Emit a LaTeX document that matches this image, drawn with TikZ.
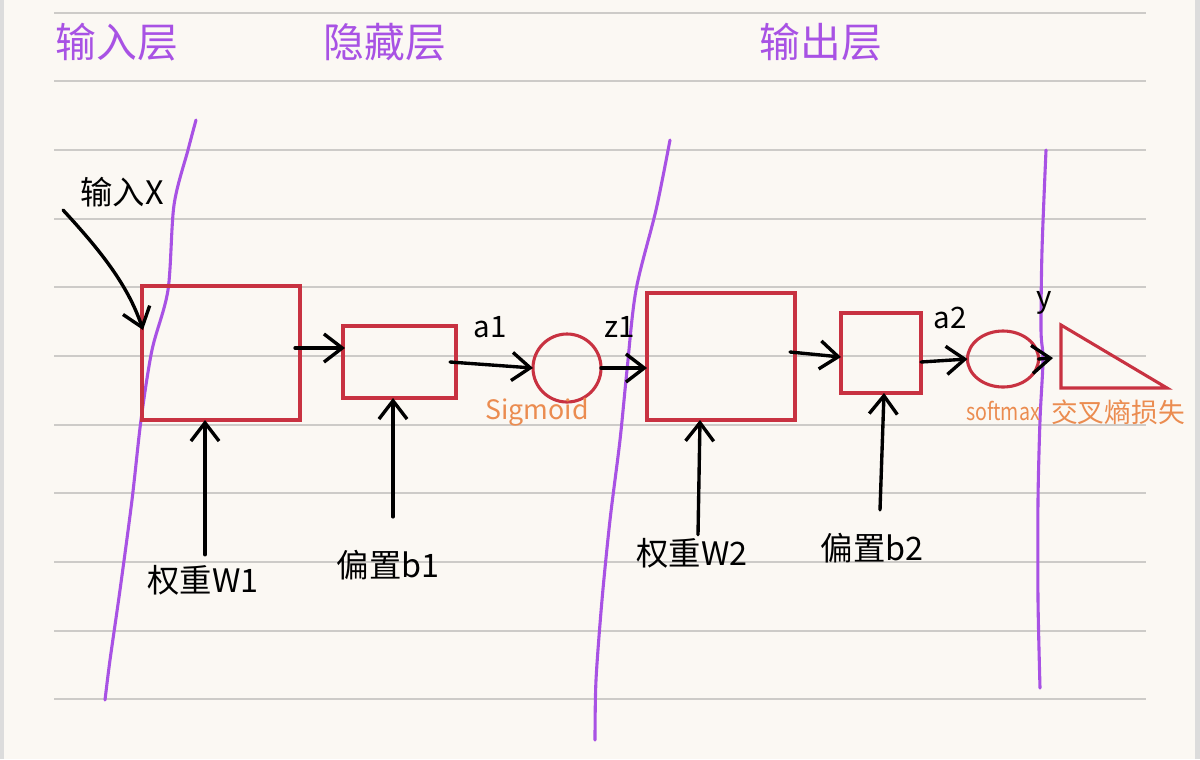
\documentclass[tikz,border=0pt]{standalone}
\usepackage{fontspec}
\setmainfont{Noto Sans CJK SC}
\usetikzlibrary{arrows.meta,shapes.geometric}
\definecolor{paper}{RGB}{251,248,243}
\definecolor{edge}{RGB}{220,220,220}
\definecolor{rule}{RGB}{205,203,200}
\definecolor{lilac}{RGB}{168,82,228}
\definecolor{boxred}{RGB}{200,50,65}
\definecolor{tang}{RGB}{235,140,80}
\tikzset{
  blk/.style={draw=boxred,line width=2.2pt,inner sep=0pt,outer sep=0pt},
  arr/.style={draw=black,line width=2.4pt,line cap=round,-{Straight Barb[length=13pt,width=20pt]}},
  layer/.style={draw=lilac,line width=2.2pt,line cap=round},
  head/.style={text=lilac,font=\fontsize{29}{31}\selectfont,inner sep=0pt},
  lbl/.style={text=black,font=\fontsize{23}{25}\selectfont,inner sep=0pt},
  sym/.style={text=black,font=\fontsize{21}{23}\selectfont,inner sep=0pt},
  act/.style={text=tang,inner sep=0pt}
}
\begin{document}
\begin{tikzpicture}[x=0.025cm,y=-0.025cm]
\useasboundingbox (0,0) rectangle (1200,759);
\fill[paper] (0,0) rectangle (1200,759);
\fill[edge] (0,0) rectangle (4,759);
\fill[edge] (1195,0) rectangle (1200,759);
\foreach \yy in {13,81,150,219,287,356,425,493,562,631,699}
  \draw[rule,line width=1.1pt] (54,\yy) -- (1146,\yy);

% layer separators
\draw[layer] plot[smooth] coordinates {(196,120) (188,150) (174,205) (168,290) (152,350) (141,420) (132,500) (120,590) (110,660) (105,700)};
\draw[layer] plot[smooth] coordinates {(670,140) (656,210) (636,290) (627,370) (620,440) (610,520) (602,600) (596,680) (595,740)};
\draw[layer] plot[smooth] coordinates {(1046,150) (1042,250) (1041,330) (1043,360) (1040,420) (1038,500) (1038,600) (1040,688)};

% headings
\node[head] (hin) at (117,42) {输入层};
\node[head] (hhid) at (385,42) {隐藏层};
\node[head] (hout) at (821,42) {输出层};

% blocks
\node[blk,rectangle,minimum width=3.95cm,minimum height=3.35cm] (box1) at (221,353) {};
\node[blk,rectangle,minimum width=2.825cm,minimum height=1.8cm] (box2) at (399.5,362) {};
\node[blk,circle,minimum size=1.7cm] (circ) at (567,368) {};
\node[blk,rectangle,minimum width=3.7cm,minimum height=3.175cm] (box3) at (721,356.5) {};
\node[blk,rectangle,minimum width=2cm,minimum height=2cm] (box4) at (881,353) {};
\node[blk,ellipse,minimum width=1.775cm,minimum height=1.4cm] (ell) at (1003,359) {};
\coordinate (t1) at (1061,325);
\coordinate (t2) at (1061,388);
\coordinate (t3) at (1167,388);
\draw[boxred,line width=2.2pt,line join=miter] (t1) -- (t2) -- (t3) -- cycle;

% input
\node[lbl] (inx) at (122,192) {输入X};
\coordinate (xs) at (63,210);
\coordinate (xe) at (143,330);
\draw[arr] (xs) .. controls (100,250) and (128,285) .. (xe);

% forward connectors
\draw[arr] ([shift={(-5,-5)}]box1.east) -- ([shift={(2,-14)}]box2.west);
\draw[arr] ([shift={(-6,0)}]box2.east) -- (circ.west);
\draw[arr] (circ.east) -- (circ.east -| box3.west);
\draw[arr] ([shift={(-5,-4.5)}]box3.east) -- ([shift={(0,4)}]box4.west);
\draw[arr] ([shift={(0,9)}]box4.east) -- (ell.west);
\coordinate (yend) at (1053,358);
\draw[arr] (ell.east) -- (yend);

% symbols
\node[sym] (a1) at (490,327) {a1};
\node[sym] (z1) at (620,327) {z1};
\node[sym] (a2) at (950,318) {a2};
\node[sym] (y) at (1044,303) {y};

% activations and loss
\node[act,font=\fontsize{19}{21}\selectfont] (sig) at (537,412) {Sigmoid};
\node[act,font=\fontsize{17}{19}\selectfont] (soft) at (1003,411) {\scalebox{0.82}[1]{softmax}};
\node[act,font=\fontsize{19}{21}\selectfont] (loss) at (1118,412) {交叉熵损失};

% parameters
\node[lbl] (w1) at (203,580) {权重W1};
\node[lbl] (b1) at (388,565) {偏置b1};
\node[lbl] (w2) at (692,553) {权重W2};
\node[lbl] (b2) at (872,548) {偏置b2};
\draw[arr] ([shift={(2,-10)}]w1.north) -- (205,0 |- box1.south);
\draw[arr] ([shift={(5,-33)}]b1.north) -- (393,0 |- box2.south);
\draw[arr] ([shift={(6,-3)}]w2.north) -- (700,0 |- box3.south);
\draw[arr] ([shift={(8,-23)}]b2.north) -- (884,0 |- box4.south);
\end{tikzpicture}
\end{document}
